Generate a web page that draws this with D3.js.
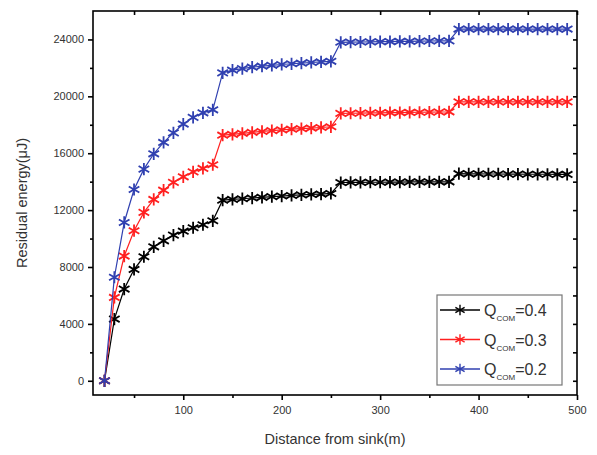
<!DOCTYPE html>
<html>
<head>
<meta charset="utf-8">
<script src="https://cdn.jsdelivr.net/npm/d3@7"></script>
<style>
  body { margin: 0; background: #fff; }
  svg text { font-family: "Liberation Sans", Arial, sans-serif; }
</style>
</head>
<body>
<svg id="chart" width="597" height="455"></svg>
<script>
// distance from sink (m)
const distance = d3.range(20, 500, 10);

// residual energy (uJ)
const q04 = [0, 4340, 6450, 7830, 8720, 9420, 9840, 10240, 10520, 10760, 10970, 11250,
    12700, 12750, 12800, 12850, 12900, 12950, 12990, 13030, 13070, 13100, 13130, 13170,
    13940, 13950, 13950, 13960, 13960, 13970, 13970, 13980, 13980, 13990, 13990, 13990,
    14560, 14550, 14550, 14540, 14540, 14530, 14530, 14520, 14520, 14520, 14510, 14510];
const q03 = [0, 5860, 8770, 10550, 11840, 12750, 13400, 13950, 14340, 14690, 14930, 15190,
    17270, 17320, 17400, 17470, 17530, 17590, 17640, 17690, 17730, 17770, 17810, 17860,
    18800, 18810, 18820, 18830, 18840, 18850, 18860, 18870, 18880, 18890, 18900, 18910,
    19610, 19610, 19610, 19610, 19610, 19610, 19610, 19610, 19610, 19610, 19610, 19610];
const q02 = [0, 7280, 11130, 13450, 14880, 15960, 16760, 17430, 18050, 18520, 18840, 19050,
    21650, 21840, 21950, 22050, 22120, 22180, 22240, 22290, 22330, 22380, 22420, 22460,
    23800, 23810, 23820, 23830, 23840, 23850, 23860, 23870, 23880, 23890, 23900, 23900,
    24730, 24730, 24730, 24730, 24730, 24730, 24730, 24730, 24730, 24730, 24730, 24730];

const seriesNames = ["Q=0.4", "Q=0.3", "Q=0.2"];
const seriesValues = [q04, q03, q02];
const seriesColors = ["#000000", "#ff2020", "#3040b0"];
const legendLabels = ["=0.4", "=0.3", "=0.2"];

const xTicks = [100, 200, 300, 400, 500];
const yTicks = [0, 4000, 8000, 12000, 16000, 20000, 24000];

const margin = {left: 93, top: 11, right: 20, bottom: 60};
const width = 597, height = 455;

const svg = d3.select("#chart");

const x = d3.scaleLinear().domain([8.3, 500]).range([margin.left, width - margin.right]);
const y = d3.scaleLinear().domain([-1000, 26000]).range([height - margin.bottom, margin.top]);

const tickColor = "#333";

// bottom axis (outward ticks)
svg.append("g")
    .attr("transform", "translate(0," + y.range()[0] + ")")
    .call(d3.axisBottom(x).tickValues(xTicks).tickSize(5).tickSizeOuter(0).tickPadding(6));
svg.append("g")
    .attr("transform", "translate(0," + y.range()[0] + ")")
    .call(d3.axisBottom(x).tickValues([50, 150, 250, 350, 450]).tickSize(3).tickFormat("").tickSizeOuter(0));

// left axis (outward ticks)
svg.append("g")
    .attr("transform", "translate(" + x.range()[0] + ",0)")
    .call(d3.axisLeft(y).tickValues(yTicks).tickSize(5).tickSizeOuter(0).tickPadding(4).tickFormat(d3.format("d")));
svg.append("g")
    .attr("transform", "translate(" + x.range()[0] + ",0)")
    .call(d3.axisLeft(y).tickValues([2000, 6000, 10000, 14000, 18000, 22000]).tickSize(3).tickFormat("").tickSizeOuter(0));

// top and right mirror axes (inward ticks)
svg.append("g")
    .attr("transform", "translate(0," + y.range()[1] + ")")
    .call(d3.axisTop(x).tickValues(d3.range(50, 501, 50)).tickSize(-4).tickFormat("").tickSizeOuter(0));
svg.append("g")
    .attr("transform", "translate(" + x.range()[1] + ",0)")
    .call(d3.axisRight(y).tickValues(d3.range(0, 26000, 2000)).tickSize(-4).tickFormat("").tickSizeOuter(0));

svg.selectAll(".domain").remove();
svg.selectAll(".tick line").attr("stroke", "#000").attr("stroke-width", 1.6);
svg.selectAll(".tick text").attr("fill", tickColor).style("font-size", "11px");

// frame
svg.append("rect")
    .attr("x", x.range()[0]).attr("y", y.range()[1])
    .attr("width", x.range()[1] - x.range()[0])
    .attr("height", y.range()[0] - y.range()[1])
    .attr("fill", "none").attr("stroke", "#000").attr("stroke-width", 1.6);

// axis titles
svg.append("text")
    .attr("x", (x.range()[0] + x.range()[1]) / 2).attr("y", 444)
    .attr("text-anchor", "middle").attr("fill", tickColor)
    .style("font-size", "14.5px")
    .text("Distance from sink(m)");

svg.append("text")
    .attr("transform", "translate(27," + (y.range()[0] + y.range()[1]) / 2 + ") rotate(-90)")
    .attr("text-anchor", "middle").attr("fill", tickColor)
    .style("font-size", "14.5px")
    .text("Residual energy(\u03bcJ)");

// series lines and markers
const line = d3.line().x((d, i) => x(distance[i])).y(d => y(d));
const star = d3.symbol().type(d3.symbolAsterisk).size(105);
const legendStar = d3.symbol().type(d3.symbolAsterisk).size(80);

seriesValues.forEach((vals, k) => {
    const g = svg.append("g").attr("class", "series");
    g.append("path")
        .datum(vals)
        .attr("d", line)
        .attr("fill", "none")
        .attr("stroke", seriesColors[k])
        .attr("stroke-width", 1.2);
    g.selectAll("path.pt")
        .data(vals)
        .enter()
        .append("path")
        .attr("class", "pt")
        .attr("d", star)
        .attr("transform", (d, i) => "translate(" + x(distance[i]) + "," + y(d) + ")")
        .attr("fill", "none")
        .attr("stroke", seriesColors[k])
        .attr("stroke-width", 1.8);
});

// legend
const legend = svg.append("g").attr("transform", "translate(437,295)");
legend.append("rect")
    .attr("width", 125).attr("height", 90)
    .attr("fill", "#fff").attr("stroke", "#777").attr("stroke-width", 1.2);

seriesNames.forEach((name, k) => {
    const ly = 15 + k * 29.5;
    const item = legend.append("g").attr("transform", "translate(0," + ly + ")");
    item.append("line")
        .attr("x1", 3).attr("x2", 43).attr("y1", 0).attr("y2", 0)
        .attr("stroke", seriesColors[k]).attr("stroke-width", 1.5);
    item.append("path")
        .attr("d", legendStar)
        .attr("transform", "translate(23,0)")
        .attr("fill", "none").attr("stroke", seriesColors[k]).attr("stroke-width", 1.4);
    const t = item.append("text")
        .attr("x", 47).attr("y", 6)
        .attr("fill", tickColor)
        .style("font-size", "16px");
    t.append("tspan").text("Q");
    t.append("tspan").attr("dy", 5).style("font-size", "8px").text("COM");
    t.append("tspan").attr("dy", -5).text(legendLabels[k]);
});
</script>
</body>
</html>
